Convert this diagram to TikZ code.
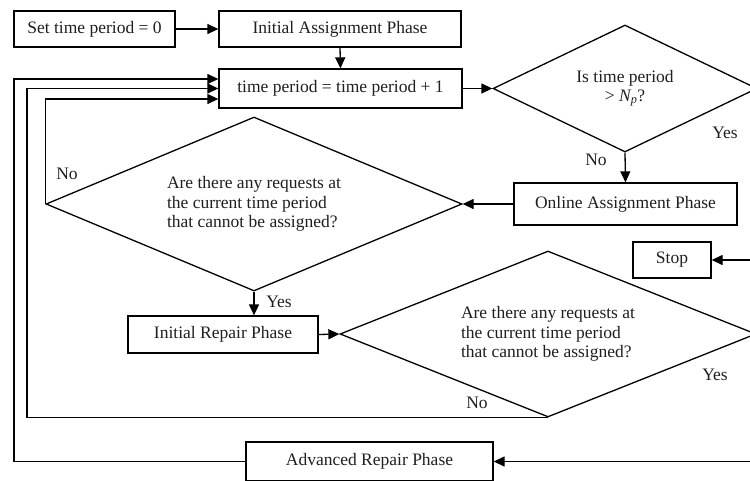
\documentclass[tikz,border=0pt]{standalone}
\usepackage{fontspec}
\setmainfont{Liberation Serif}
\usetikzlibrary{shapes.geometric,arrows.meta,calc}
\begin{document}
\begin{tikzpicture}[x=1pt,y=-1pt,
  every node/.style={font=\fontsize{17.5}{19.5}\selectfont, text=black!88},
  box/.style={draw, rectangle, line width=1.3pt, inner sep=0pt},
  decision/.style={draw, diamond, line width=1.3pt, inner sep=0pt, aspect=2.4},
  flow/.style={line width=1.3pt, -{Triangle[length=11pt,width=10pt]}},
  lbl/.style={inner sep=0pt}]
\useasboundingbox (0,0) rectangle (750,480);
\clip (0,0) rectangle (750,480);

% x positions of the three return lines on the left
\coordinate (outx) at (14,0);
\coordinate (midx) at (27,0);

% process boxes
\node[box, minimum width=161pt, minimum height=36pt] (set) at (94.5,29) {Set time period = 0};
\node[box, minimum width=242pt, minimum height=36pt] (init) at (340,29) {Initial Assignment Phase};
\node[box, minimum width=243pt, minimum height=39pt] (inc) at (340.5,88.5) {time period = time period + 1};
\node[box, minimum width=223pt, minimum height=42pt] (online) at (625.5,204) {Online Assignment Phase};
\node[box, minimum width=190pt, minimum height=37pt] (irep) at (223,334.5) {Initial Repair Phase};
\node[box, minimum width=78pt, minimum height=36pt] (stop) at (672,260) {Stop};
\node[box, minimum width=247pt, minimum height=39pt] (arep) at (369.5,461.5) {Advanced Repair Phase};

% decisions
\node[decision, minimum width=264pt, minimum height=127pt, align=center] (tq) at (625,88.5)
  {Is time period\\[-1pt] > \textit{N\textsubscript{p}}?};
\node[decision, minimum width=416pt, minimum height=174pt, align=left] (q1) at (254,204)
  {Are there any requests at\\the current time period\\that cannot be assigned?};
\node[decision, minimum width=416pt, minimum height=166pt, align=left] (q2) at (548,334)
  {Are there any requests at\\the current time period\\that cannot be assigned?};

% branch labels
\node[lbl] (tqno) at (596,160) {No};
\node[lbl] (tqyes) at (725,133) {Yes};
\node[lbl] (q1no) at (67,174) {No};
\node[lbl] (q1yes) at (279,302) {Yes};
\node[lbl] (q2no) at (477,403) {No};
\node[lbl] (q2yes) at (715,375) {Yes};

% main flow
\draw[flow] (set.east) -- (init.west);
\draw[flow] (init.south) -- (inc.north);
\draw[flow] (inc.east) -- (tq.west);
\draw[flow] (tq.south) -- (online.north);
\draw[flow] (tq.east) -- ++(25,0) |- (stop.east);
\draw[flow] (online.west) -- (q1.east);
\draw[flow] (q1.south) -- (q1.south |- irep.north);
\draw[flow] (irep.east) -- (q2.west);
\draw[flow] (q2.east) -- ++(25,0) |- (arep.east);

% return loops to the time period update
\draw[flow] (q1.west) |- ($(inc.west)+(0,10.5)$);
\draw[flow] (q2.south) -- (q2.south -| midx) |- (inc.west);
\draw[flow] (arep.west) -- (arep.west -| outx) |- ($(inc.west)+(0,-9.5)$);
\end{tikzpicture}
\end{document}
